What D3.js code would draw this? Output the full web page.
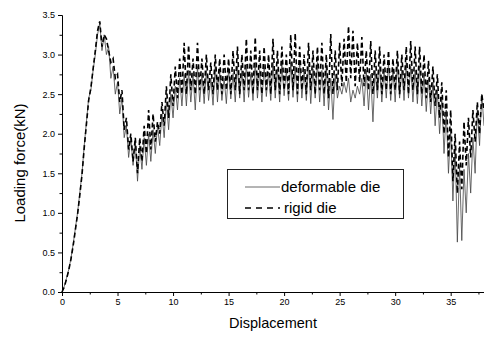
<!DOCTYPE html>
<html>
<head>
<meta charset="utf-8">
<script src="https://cdn.jsdelivr.net/npm/d3@7"></script>
<style>
  html, body { margin: 0; padding: 0; background: #fff; }
  svg { display: block; font-family: "Liberation Sans", Arial, sans-serif; }
</style>
</head>
<body>
<div id="chart"></div>
<script>
// ── Data (loading force in kN, sampled every 0.2 of displacement) ───────────
const xStep = 0.2;

const deformable = [
  0, 0.07, 0.17, 0.28, 0.42, 0.6, 0.8, 1.0, 1.25, 1.5,
  1.85, 2.15, 2.45, 2.55, 2.8, 3.0, 3.25, 3.4, 3.05, 3.25,
  3.0, 3.1, 2.7, 2.85, 2.5, 2.65, 2.25, 2.45, 1.95, 2.1,
  1.7, 1.95, 1.6, 1.9, 1.4, 1.85, 1.55, 1.95, 1.6, 2.0,
  1.65, 2.05, 1.75, 2.1, 1.85, 2.25, 1.95, 2.4, 2.05, 2.5,
  2.2, 2.6, 2.3, 2.7, 2.35, 2.75,
  // 11.2 – 33.0
  2.35, 2.8, 2.4, 2.75, 2.3, 2.85, 2.4, 2.75, 2.38, 2.8,
  2.42, 2.7, 2.36, 2.85, 2.4, 2.78, 2.42, 2.7, 2.38, 2.82,
  2.44, 2.76, 2.4, 2.85, 2.45, 2.8, 2.4, 2.88, 2.46, 2.75,
  2.42, 2.9, 2.45, 2.8, 2.4, 2.85, 2.47, 2.78, 2.42, 2.9,
  2.45, 2.82, 2.4, 2.88, 2.48, 2.8, 2.42, 2.9, 2.46, 2.85,
  2.4, 2.92, 2.45, 2.78, 2.42, 2.88, 2.38, 2.82, 2.45, 2.9,
  2.4, 2.8, 2.35, 2.85, 2.3, 2.7, 2.18, 2.75, 2.45, 2.6,
  2.5, 2.65, 2.52, 2.7, 2.4, 2.55, 2.45, 2.6, 2.5, 2.7,
  2.35, 2.8, 2.3, 2.75, 2.15, 2.8, 2.45, 2.85, 2.4, 2.8,
  2.45, 2.9, 2.42, 2.82, 2.4, 2.88, 2.45, 2.8, 2.42, 2.9,
  2.45, 2.85, 2.4, 2.8, 2.38, 2.85, 2.35, 2.75, 2.28, 2.7,
  // 33.2 – 38.0
  2.25, 2.65, 2.1, 2.55, 2.0, 2.45, 1.75, 2.3, 1.5, 2.05,
  1.15, 1.85, 0.63, 1.6, 0.65, 1.55, 1.0, 1.75, 1.25, 1.95,
  1.5, 2.3, 1.85, 2.5, 2.1
];

const rigid = [
  0, 0.06, 0.16, 0.27, 0.41, 0.58, 0.78, 0.98, 1.22, 1.48,
  1.82, 2.12, 2.42, 2.58, 2.82, 3.05, 3.3, 3.42, 3.1, 3.25,
  3.2, 3.05, 2.9, 2.95, 2.7, 2.75, 2.4, 2.55, 2.05, 2.2,
  1.8, 2.0, 1.65, 1.95, 1.5, 1.95, 1.65, 2.1, 1.75, 2.3,
  1.8, 2.25, 1.9, 2.15, 2.0, 2.4, 2.1, 2.6, 2.2, 2.75,
  2.35, 2.85, 2.45, 2.95, 2.5, 3.15,
  // 11.2 – 33.0
  2.5, 3.12, 2.55, 2.95, 2.5, 3.15, 2.55, 2.95, 2.5, 3.0,
  2.55, 2.9, 2.5, 3.0, 2.55, 2.95, 2.5, 3.0, 2.55, 2.95,
  2.5, 3.05, 2.55, 3.1, 2.5, 3.0, 2.55, 3.2, 2.55, 3.05,
  2.5, 3.22, 2.55, 3.05, 2.5, 3.1, 2.55, 3.0, 2.5, 3.2,
  2.55, 3.05, 2.5, 3.1, 2.55, 3.0, 2.5, 3.25, 2.55, 3.27,
  2.5, 3.1, 2.55, 3.0, 2.5, 3.15, 2.55, 3.05, 2.5, 3.1,
  2.55, 3.15, 2.5, 3.0, 2.45, 3.26, 2.5, 3.05, 2.55, 3.15,
  2.6, 3.2, 2.65, 3.36, 2.7, 3.3, 2.6, 3.15, 2.65, 3.22,
  2.6, 3.05, 2.55, 3.17, 2.5, 3.05, 2.55, 3.1, 2.5, 3.0,
  2.55, 3.05, 2.5, 2.95, 2.55, 3.05, 2.5, 3.0, 2.55, 3.1,
  2.5, 3.17, 2.55, 3.1, 2.5, 3.1, 2.5, 3.0, 2.45, 2.92,
  // 33.2 – 38.0
  2.4, 2.85, 2.35, 2.75, 2.2, 2.65, 2.0, 2.55, 1.7, 2.3,
  1.4, 2.0, 1.25, 1.9, 1.3, 2.15, 1.6, 2.2, 1.7, 2.3,
  1.9, 2.4, 2.0, 2.5, 2.3
];

const xTicks = [0, 5, 10, 15, 20, 25, 30, 35];
const yTicks = [0, 0.5, 1.0, 1.5, 2.0, 2.5, 3.0, 3.5];
const legendLabels = ['deformable die', 'rigid die'];

// ── Chart ───────────────────────────────────────────────────────────────────
const W = 484, H = 345;
const svg = d3.select('#chart').append('svg')
  .attr('width', W)
  .attr('height', H);

const x = d3.scaleLinear().domain([0, 38]).range([62, 484]);
const y = d3.scaleLinear().domain([0, 3.5]).range([292, 15]);

const line = d3.line()
  .x((d, i) => x(i * xStep))
  .y(d => y(d));

// curves
svg.append('path')
  .datum(deformable)
  .attr('d', line)
  .attr('fill', 'none')
  .attr('stroke', '#444')
  .attr('stroke-width', 0.8);

svg.append('path')
  .datum(rigid)
  .attr('d', line)
  .attr('fill', 'none')
  .attr('stroke', '#000')
  .attr('stroke-width', 1.6)
  .attr('stroke-dasharray', '5,3');

// axes
const xAxis = svg.append('g')
  .attr('transform', `translate(0,${y(0)})`)
  .call(d3.axisBottom(x).tickValues(xTicks).tickSize(4).tickPadding(3).tickFormat(d3.format('d')));

svg.append('g')
  .attr('transform', `translate(0,${y(0)})`)
  .call(d3.axisBottom(x).tickValues(xTicks.map(t => t + 2.5)).tickSize(2.5).tickFormat(''))
  .call(g => g.select('.domain').remove());

const yAxis = svg.append('g')
  .attr('transform', `translate(${x(0)},0)`)
  .call(d3.axisLeft(y).tickValues(yTicks).tickSize(4).tickPadding(3).tickFormat(d3.format('.1f')));

svg.append('g')
  .attr('transform', `translate(${x(0)},0)`)
  .call(d3.axisLeft(y).tickValues(yTicks.slice(0, -1).map(t => t + 0.25)).tickSize(2.5).tickFormat(''))
  .call(g => g.select('.domain').remove());

svg.selectAll('.tick text')
  .attr('font-size', 9)
  .attr('font-family', '"Liberation Sans", Arial, sans-serif')
  .attr('fill', '#000');
svg.selectAll('.domain').attr('stroke', '#000');

// titles
svg.append('text')
  .attr('x', 273)
  .attr('y', 328)
  .attr('text-anchor', 'middle')
  .attr('font-size', 14.5)
  .text('Displacement');

svg.append('text')
  .attr('transform', 'translate(25,163) rotate(-90)')
  .attr('text-anchor', 'middle')
  .attr('font-size', 15)
  .text('Loading force(kN)');

// ── Legend ──────────────────────────────────────────────────────────────────
const legend = svg.append('g');
legend.append('rect')
  .attr('x', 227.5).attr('y', 169.5)
  .attr('width', 176).attr('height', 49)
  .attr('fill', '#fff')
  .attr('stroke', '#222')
  .attr('stroke-width', 1);

legendLabels.forEach((label, i) => {
  const cy = 187 + i * 21;
  legend.append('line')
    .attr('x1', 245).attr('x2', 280)
    .attr('y1', cy).attr('y2', cy)
    .attr('stroke', i === 0 ? '#444' : '#000')
    .attr('stroke-width', i === 0 ? 0.8 : 1.6)
    .attr('stroke-dasharray', i === 0 ? null : '6,5');
  legend.append('text')
    .attr('x', i === 0 ? 281 : 284)
    .attr('y', cy + 5)
    .attr('font-size', 15)
    .text(label);
});
</script>
</body>
</html>
